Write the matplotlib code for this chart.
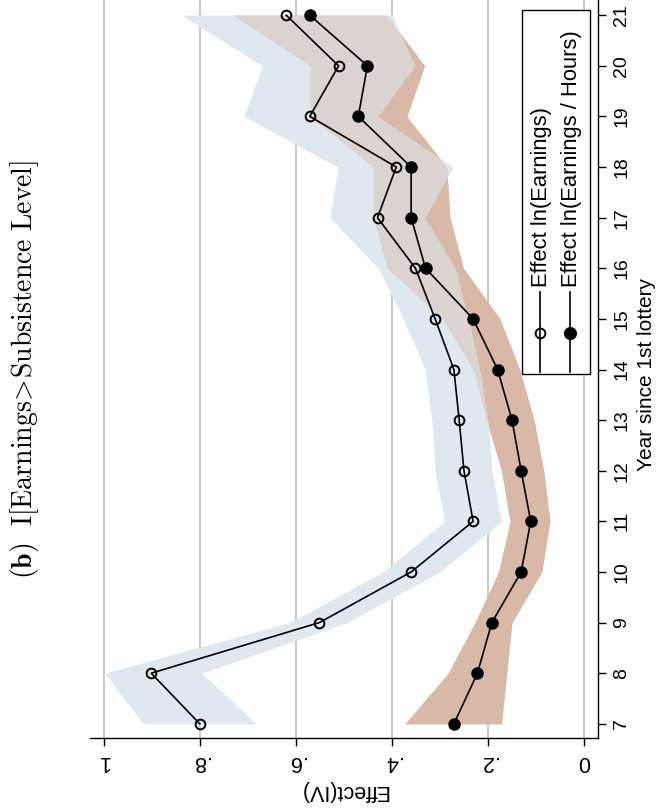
"""
Rotated Stata-style event-study plot: effect of lottery on
I[Earnings > Subsistence Level], two series with confidence bands.
"""

import matplotlib
matplotlib.use("Agg")
import matplotlib.pyplot as plt
from matplotlib.lines import Line2D
from matplotlib.patches import Rectangle

plt.rcParams["font.family"] = ["Liberation Sans", "DejaVu Sans"]
plt.rcParams["mathtext.fontset"] = "cm"

# ── Data ─────────────────────────────────────────────────────────
years = [7, 8, 9, 10, 11, 12, 13, 14, 15, 16, 17, 18, 19, 20, 21]

eff_earn = [0.800, 0.901, 0.551, 0.360, 0.231, 0.250, 0.260, 0.271,
            0.310, 0.351, 0.430, 0.391, 0.571, 0.511, 0.620]
earn_hi = [0.918, 0.998, 0.612, 0.419, 0.290, 0.310, 0.317, 0.331,
           0.376, 0.428, 0.529, 0.512, 0.708, 0.670, 0.838]
earn_lo = [0.682, 0.796, 0.494, 0.300, 0.172, 0.192, 0.200, 0.217,
           0.241, 0.268, 0.331, 0.273, 0.429, 0.352, 0.400]

eff_wage = [0.271, 0.222, 0.192, 0.131, 0.111, 0.131, 0.150, 0.180,
            0.231, 0.330, 0.360, 0.360, 0.470, 0.451, 0.571]
wage_hi = [0.373, 0.283, 0.227, 0.178, 0.154, 0.172, 0.203, 0.231,
           0.294, 0.410, 0.439, 0.439, 0.570, 0.570, 0.731]
wage_lo = [0.172, 0.161, 0.150, 0.088, 0.071, 0.084, 0.104, 0.134,
           0.175, 0.251, 0.279, 0.286, 0.369, 0.332, 0.411]

effect_ticks = [1.0, 0.8, 0.6, 0.4, 0.2, 0.0]
effect_labels = ["1", ".8", ".6", ".4", ".2", "0"]

legend_labels = ["Effect ln(Earnings)", "Effect ln(Earnings / Hours)"]

# ── Style ────────────────────────────────────────────────────────
W, H = 657, 811
BLUE = "#dee8ee"
BROWN = "#d8b8a7"
GRID = "#cccccc"


def fx(px):
    return px / W


def fy(py):
    return 1 - py / H


fig = plt.figure(figsize=(W / 100, H / 100), dpi=100)
ax = fig.add_axes([fx(90), fy(738), fx(598) - fx(90), fy(0) - fy(738)])

# bands: brown, blue over it, then a see-through brown for the overlap tint
ax.fill_betweenx(years, wage_lo, wage_hi, color=BROWN, lw=0, zorder=2)
ax.fill_betweenx(years, earn_lo, earn_hi, color=BLUE, lw=0, zorder=3)
ax.fill_betweenx(years, wage_lo, wage_hi, color=BROWN, alpha=0.42, lw=0,
                 zorder=4)

ax.plot(eff_earn, years, color="black", lw=1.2, marker="o", ms=7,
        mfc="none", mec="black", mew=1.4, zorder=5)
ax.plot(eff_wage, years, color="black", lw=1.2, marker="o", ms=8,
        mfc="black", mec="black", zorder=5)

ax.set_xlim(1.0285, -0.029)
ax.set_ylim(6.72, 21.3)

ax.set_xticks(effect_ticks)
ax.set_xticklabels(effect_labels, rotation=180, fontsize=15.5)
ax.set_yticks(years)
ax.set_yticklabels([str(y) for y in years], rotation=90, fontsize=14,
                   va="center")
ax.yaxis.tick_right()
ax.tick_params(axis="x", length=6, width=1, pad=3)
ax.tick_params(axis="y", length=6, width=1, pad=5)

ax.grid(axis="x", color=GRID, lw=1.5, zorder=0)
ax.set_axisbelow(True)

for side in ["top", "left"]:
    ax.spines[side].set_visible(False)
for side in ["bottom", "right"]:
    ax.spines[side].set_linewidth(1)

# axis titles
fig.text(fx(344), fy(791), "Effect(IV)", rotation=180, fontsize=15.5,
         ha="center", va="center")
fig.text(fx(647), fy(374), "Year since 1st lottery", rotation=90,
         fontsize=15, ha="center", va="center")

# panel title
fig.text(fx(25), fy(369),
         r"$\mathbf{(b)}\ \ \mathrm{I[Earnings\!>\!Subsistence\ Level]}$",
         rotation=90, fontsize=20, ha="center", va="center")

# ── Rotated legend ───────────────────────────────────────────────
fig.add_artist(Rectangle((fx(522), fy(374)), fx(590) - fx(522),
                         fy(10) - fy(374), transform=fig.transFigure,
                         facecolor="white", edgecolor="black", lw=1,
                         zorder=10))
for lx, label, face in [(540, legend_labels[0], "none"),
                        (570, legend_labels[1], "black")]:
    fig.add_artist(Line2D([fx(lx), fx(lx)], [fy(292), fy(372)],
                          transform=fig.transFigure, color="black",
                          lw=1.2, zorder=11))
    fig.add_artist(Line2D([fx(lx)], [fy(333)], transform=fig.transFigure,
                          marker="o", ms=7 if face == "none" else 8,
                          mfc=face, mec="black", mew=1.4, zorder=12))
    fig.text(fx(lx + 2), fy(287), label, rotation=90, fontsize=15.8,
             ha="left", va="center", rotation_mode="anchor", zorder=12)

fig.savefig("out.png", dpi=100)
